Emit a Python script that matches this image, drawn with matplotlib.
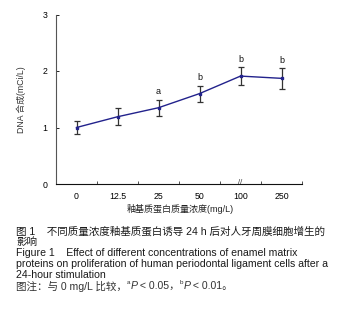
import matplotlib
matplotlib.use("Agg")
import matplotlib.pyplot as plt
from matplotlib.transforms import offset_copy

plt.rcParams['font.family'] = ['Liberation Sans', 'Noto Sans CJK SC', 'DejaVu Sans']

categories = ["0", "12.5", "25", "50", "100", "250"]
dna = [1.00, 1.19, 1.35, 1.60, 1.91, 1.87]
err = [0.12, 0.15, 0.14, 0.14, 0.16, 0.18]
sig = ["", "", "a", "b", "b", "b"]
yticks = [0, 1, 2, 3]

fig = plt.figure(figsize=(3.41, 3.25), dpi=100)
ax = fig.add_axes([56/341, 1-184/325, 246/341, (184-14.5)/325])

x = [i + 0.5 for i in range(len(categories))]
ax.errorbar(x, dna, yerr=err, fmt='none', ecolor='#333333', elinewidth=0.9,
            capsize=2.5, capthick=0.9, zorder=2)
ax.plot(x, dna, color='#22228c', lw=1.0, marker='s', ms=1.7, zorder=3)
for xi, v, e, s in zip(x, dna, err, sig):
    if s:
        ax.text(xi, v + e + 0.06, s, ha='center', va='bottom', fontsize=6.5, color='#111111')

ax.set_xlim(0, len(categories))
ax.set_ylim(0, 3)
ax.set_yticks(yticks)
ax.set_yticklabels([str(t) for t in yticks])
ax.set_xticks(range(len(categories) + 1))
ax.set_xticklabels([])
ax.set_xticks(x, minor=True)
ax.set_xticklabels(categories, minor=True)
ax.tick_params(axis='x', which='major', direction='in', length=2.5, width=0.6, color='#333333')
ax.tick_params(axis='x', which='minor', length=0, pad=6, labelsize=6.3)
ax.tick_params(axis='y', direction='in', length=2, width=0.6, pad=6, labelsize=6.3)
for sp in ['top', 'right']:
    ax.spines[sp].set_visible(False)
ax.spines['left'].set_color('#555555')
ax.spines['bottom'].set_color('#111111')
ax.spines['left'].set_linewidth(0.8)
ax.spines['bottom'].set_linewidth(0.8)

# axis break mark at 100
ax.text(4.5, 0.02, '//', ha='center', va='center', fontsize=5.5, color='#333333',
        clip_on=False)

ax.set_ylabel('DNA 合成(mCi/L)', fontsize=6.3, color='#333333', labelpad=12)
fig.text(180/341, 1-209/325, '釉基质蛋白质量浓度(mg/L)', ha='center', va='center',
         fontsize=6.5, color='#222222')

cap_fs = 7.6
lx = 16/341
lines = [
    (231, '图 1    不同质量浓度釉基质蛋白诱导 24 h 后对人牙周膜细胞增生的'),
    (242, '影响'),
    (253, 'Figure 1    Effect of different concentrations of enamel matrix'),
    (264, 'proteins on proliferation of human periodontal ligament cells after a'),
    (275, '24-hour stimulation'),
]
for yy, t in lines:
    fig.text(lx, 1-yy/325, t, ha='left', va='center', fontsize=cap_fs, color='#1a1a1a')

# note line, drawn piece by piece (superscripts and italic P)
renderer = fig.canvas.get_renderer()
pieces = [
    ('图注：与 0 mg/L 比较，', 'normal', cap_fs, 0),
    ('a', 'normal', cap_fs * 0.6, 3),
    ('P', 'italic', cap_fs, 0),
    (' < 0.05，', 'normal', cap_fs, 0),
    ('b', 'normal', cap_fs * 0.6, 3),
    ('P', 'italic', cap_fs, 0),
    (' < 0.01。', 'normal', cap_fs, 0),
]
xoff = 0.0
base_y = 1 - 286/325
for t, style, fs, dy in pieces:
    tr = offset_copy(fig.transFigure, fig=fig, x=xoff, y=dy, units='dots')
    txt = fig.text(lx, base_y, t, ha='left', va='center', fontsize=fs, style=style,
                   color='#333333', transform=tr)
    bb = txt.get_window_extent(renderer=renderer)
    xoff += bb.width

fig.savefig('out.png', dpi=100)
